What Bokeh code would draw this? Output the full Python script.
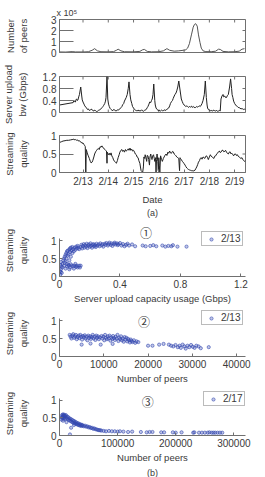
from bokeh.plotting import figure
from bokeh.layouts import column
from bokeh.models import FixedTicker, NumeralTickFormatter, Label, Range1d, Title
from bokeh.embed import file_html
from bokeh.resources import INLINE
import math

# ---------------- data ----------------
# (a) one week of measurements, time in days of February
date_ticks = [13, 14, 15, 16, 17, 18, 19]
date_labels = ["2/13", "2/14", "2/15", "2/16", "2/17", "2/18", "2/19"]

t_peers = [12.07, 12.32, 12.57, 12.71, 13.04, 13.21, 13.36, 13.46, 13.57, 13.71,
           14.0, 14.21, 14.32, 14.39, 14.5, 14.64, 15.0, 15.25, 15.36, 15.43,
           15.54, 15.71, 16.0, 16.18, 16.32, 16.43, 16.61, 16.79, 16.96, 17.07,
           17.14, 17.21, 17.29, 17.36, 17.41, 17.46, 17.52, 17.57, 17.63, 17.68,
           17.75, 17.86, 18.07, 18.25, 18.36, 18.43, 18.54, 18.75, 19.0, 19.18,
           19.29, 19.39]
peers_e5 = [0.05, 0.04, 0.08, 0.05, 0.05, 0.07, 0.2, 0.35, 0.15, 0.07,
            0.06, 0.08, 0.2, 0.3, 0.15, 0.07, 0.06, 0.1, 0.25, 0.28,
            0.1, 0.06, 0.07, 0.15, 0.35, 0.2, 0.12, 0.15, 0.2, 0.25,
            0.4, 0.8, 1.6, 2.3, 2.55, 2.62, 2.4, 1.6, 0.9, 0.4,
            0.15, 0.08, 0.07, 0.12, 0.3, 0.28, 0.1, 0.06, 0.07, 0.12,
            0.3, 0.35]

# server upload bandwidth (Gbps) as (day, value)
bw_points = [
    (12.07, 0.25), (12.61, 0.33), (12.64, 0.4), (12.67, 0.36), (12.70, 0.35), (12.73, 0.44),
    (12.75, 0.45), (12.78, 0.4), (12.80, 0.42), (12.83, 0.52), (12.86, 0.6), (12.91, 0.85),
    (12.95, 0.55), (12.97, 0.42), (13.0, 0.35), (13.04, 0.28), (13.07, 0.22), (13.11, 0.18),
    (13.14, 0.15), (13.18, 0.1), (13.21, 0.12), (13.25, 0.07), (13.29, 0.08), (13.32, 0.11),
    (13.36, 0.1), (13.39, 0.06), (13.43, 0.05), (13.46, 0.08), (13.5, 0.06), (13.54, 0.03),
    (13.57, 0.04), (13.61, 0.07), (13.64, 0.08), (13.68, 0.1), (13.71, 0.12), (13.75, 0.16),
    (13.79, 0.2), (13.82, 0.24), (13.86, 0.3), (13.89, 0.38), (13.91, 0.5), (13.95, 1.2),
    (13.98, 0.45), (14.01, 0.28), (14.04, 0.2), (14.07, 0.14), (14.11, 0.1), (14.14, 0.08),
    (14.18, 0.06), (14.21, 0.1), (14.25, 0.09), (14.29, 0.05), (14.32, 0.05), (14.36, 0.09),
    (14.39, 0.08), (14.43, 0.1), (14.46, 0.12), (14.5, 0.16), (14.54, 0.2), (14.57, 0.26),
    (14.61, 0.3), (14.64, 0.38), (14.68, 0.45), (14.71, 0.5), (14.75, 0.6), (14.79, 0.8),
    (14.82, 1.02), (14.86, 0.6), (14.89, 0.42), (14.93, 0.3), (14.96, 0.2), (15.0, 0.15),
    (15.04, 0.1), (15.07, 0.08), (15.11, 0.06), (15.14, 0.07), (15.18, 0.05), (15.21, 0.08),
    (15.25, 0.05), (15.29, 0.06), (15.32, 0.09), (15.36, 0.05), (15.39, 0.04), (15.43, 0.07),
    (15.46, 0.08), (15.5, 0.1), (15.54, 0.16), (15.57, 0.2), (15.61, 0.28), (15.64, 0.35),
    (15.68, 0.33), (15.71, 0.4), (15.74, 0.45), (15.77, 0.6), (15.80, 0.95), (15.84, 0.4),
    (15.86, 0.25), (15.89, 0.15), (15.93, 0.1), (15.96, 0.08), (16.0, 0.06), (16.04, 0.07),
    (16.07, 0.05), (16.11, 0.08), (16.14, 0.06), (16.18, 0.06), (16.21, 0.09), (16.25, 0.07),
    (16.29, 0.08), (16.32, 0.11), (16.36, 0.13), (16.39, 0.15), (16.43, 0.22), (16.46, 0.3),
    (16.5, 0.36), (16.54, 0.4), (16.57, 0.47), (16.61, 0.55), (16.64, 0.6), (16.68, 0.65),
    (16.71, 0.72), (16.75, 0.85), (16.79, 1.05), (16.84, 0.75), (16.89, 0.45), (16.93, 0.36),
    (16.96, 0.3), (17.0, 0.25), (17.04, 0.22), (17.07, 0.2), (17.11, 0.22), (17.14, 0.2),
    (17.18, 0.17), (17.21, 0.2), (17.25, 0.18), (17.29, 0.21), (17.32, 0.17), (17.36, 0.2),
    (17.39, 0.18), (17.43, 0.16), (17.46, 0.17), (17.5, 0.2), (17.54, 0.18), (17.57, 0.2),
    (17.61, 0.22), (17.64, 0.2), (17.68, 0.25), (17.71, 0.3), (17.75, 0.4), (17.80, 0.6),
    (17.84, 1.05), (17.88, 0.5), (17.91, 0.25), (17.93, 0.15), (17.96, 0.1), (18.0, 0.08),
    (18.04, 0.06), (18.07, 0.07), (18.11, 0.05), (18.14, 0.06), (18.18, 0.08), (18.21, 0.06),
    (18.25, 0.05), (18.29, 0.07), (18.32, 0.04), (18.36, 0.05), (18.39, 0.07), (18.43, 0.05),
    (18.46, 0.45), (18.5, 0.55), (18.54, 0.6), (18.57, 0.52), (18.61, 0.55), (18.64, 0.5),
    (18.68, 0.5), (18.71, 0.56), (18.75, 0.6), (18.80, 0.85), (18.84, 1.12), (18.88, 0.8),
    (18.9, 0.6), (18.93, 0.5), (18.96, 0.38), (19.0, 0.3), (19.04, 0.25), (19.07, 0.22),
    (19.11, 0.2), (19.14, 0.17), (19.18, 0.16), (19.21, 0.15), (19.25, 0.12), (19.29, 0.13),
    (19.32, 0.12), (19.36, 0.1), (19.39, 0.11), (19.43, 0.1)]

# streaming quality as (day, value)
quality_points = [
    (12.07, 0.81), (12.14, 0.83), (12.21, 0.85), (12.29, 0.86), (12.36, 0.87), (12.43, 0.87),
    (12.5, 0.88), (12.57, 0.89), (12.64, 0.9), (12.68, 0.88), (12.71, 0.89), (12.75, 0.87),
    (12.79, 0.88), (12.82, 0.85), (12.86, 0.86), (12.89, 0.83), (12.93, 0.82), (12.96, 0.79),
    (13.0, 0.8), (13.04, 0.75), (13.07, 0.73), (13.09, 0.7), (13.11, 0.0), (13.13, 0.62),
    (13.16, 0.55), (13.18, 0.5), (13.21, 0.45), (13.25, 0.38), (13.29, 0.3), (13.32, 0.26),
    (13.36, 0.28), (13.39, 0.33), (13.43, 0.42), (13.46, 0.5), (13.5, 0.56), (13.54, 0.6),
    (13.57, 0.63), (13.61, 0.65), (13.64, 0.62), (13.68, 0.7), (13.71, 0.68), (13.75, 0.72),
    (13.79, 0.67), (13.82, 0.66), (13.86, 0.62), (13.89, 0.6), (13.93, 0.58), (13.95, 0.25),
    (13.96, 0.55), (14.0, 0.48), (14.04, 0.52), (14.07, 0.47), (14.11, 0.53), (14.14, 0.45),
    (14.18, 0.4), (14.21, 0.34), (14.25, 0.3), (14.29, 0.27), (14.32, 0.25), (14.36, 0.32),
    (14.39, 0.4), (14.43, 0.48), (14.46, 0.55), (14.5, 0.6), (14.54, 0.62), (14.57, 0.57),
    (14.61, 0.6), (14.64, 0.55), (14.68, 0.62), (14.71, 0.58), (14.75, 0.6), (14.79, 0.64),
    (14.82, 0.6), (14.86, 0.66), (14.89, 0.6), (14.93, 0.63), (14.96, 0.58), (15.0, 0.6),
    (15.04, 0.55), (15.07, 0.5), (15.11, 0.48), (15.14, 0.42), (15.18, 0.4), (15.21, 0.32),
    (15.25, 0.25), (15.28, 0.12), (15.30, 0.05), (15.34, 0.02), (15.36, 0.0), (15.39, 0.15),
    (15.41, 0.42), (15.44, 0.38), (15.46, 0.48), (15.49, 0.4), (15.52, 0.3), (15.54, 0.46),
    (15.57, 0.45), (15.6, 0.35), (15.63, 0.2), (15.65, 0.42), (15.68, 0.5), (15.71, 0.38),
    (15.73, 0.35), (15.76, 0.45), (15.79, 0.48), (15.82, 0.38), (15.84, 0.3), (15.87, 0.4),
    (15.89, 0.0), (15.91, 0.35), (15.93, 0.5), (15.96, 0.3), (15.98, 0.05), (16.0, 0.4),
    (16.02, 0.2), (16.04, 0.0), (16.07, 0.45), (16.11, 0.35), (16.14, 0.3), (16.18, 0.38),
    (16.21, 0.42), (16.25, 0.47), (16.29, 0.5), (16.32, 0.46), (16.36, 0.55), (16.39, 0.52),
    (16.43, 0.58), (16.46, 0.53), (16.5, 0.52), (16.54, 0.57), (16.57, 0.56), (16.61, 0.5),
    (16.64, 0.48), (16.68, 0.45), (16.71, 0.42), (16.75, 0.4), (16.79, 0.38), (16.82, 0.05),
    (16.84, 0.4), (16.86, 0.37), (16.89, 0.35), (16.93, 0.3), (16.96, 0.28), (17.0, 0.24),
    (17.04, 0.2), (17.07, 0.16), (17.11, 0.12), (17.14, 0.1), (17.18, 0.08), (17.21, 0.07),
    (17.25, 0.06), (17.29, 0.05), (17.32, 0.05), (17.36, 0.04), (17.39, 0.05), (17.43, 0.06),
    (17.46, 0.1), (17.5, 0.15), (17.54, 0.22), (17.57, 0.28), (17.61, 0.32), (17.64, 0.38),
    (17.68, 0.4), (17.71, 0.36), (17.75, 0.42), (17.79, 0.4), (17.82, 0.38), (17.86, 0.44),
    (17.89, 0.45), (17.93, 0.4), (17.96, 0.35), (18.0, 0.42), (18.04, 0.48), (18.07, 0.44),
    (18.11, 0.42), (18.14, 0.4), (18.18, 0.38), (18.21, 0.44), (18.25, 0.45), (18.29, 0.5),
    (18.32, 0.52), (18.36, 0.56), (18.39, 0.58), (18.43, 0.54), (18.46, 0.55), (18.5, 0.6),
    (18.54, 0.6), (18.57, 0.56), (18.61, 0.57), (18.64, 0.6), (18.68, 0.55), (18.71, 0.52),
    (18.75, 0.5), (18.79, 0.55), (18.82, 0.56), (18.86, 0.5), (18.89, 0.52), (18.93, 0.48),
    (18.96, 0.45), (19.0, 0.5), (19.04, 0.5), (19.07, 0.46), (19.11, 0.48), (19.14, 0.44),
    (19.18, 0.42), (19.21, 0.4), (19.25, 0.38), (19.29, 0.4), (19.32, 0.35), (19.36, 0.33),
    (19.39, 0.3), (19.43, 0.32)]

# (b)-1  2/13: server upload usage (Gbps) vs streaming quality
usage_0213 = [0.005, 0.008, 0.01, 0.012, 0.006, 0.015, 0.018, 0.02, 0.01, 0.003,
              0.025, 0.03, 0.03, 0.035, 0.035, 0.04, 0.04, 0.045, 0.045, 0.05,
              0.05, 0.05, 0.055, 0.055, 0.06, 0.06, 0.065, 0.065, 0.07, 0.07,
              0.07, 0.075, 0.075, 0.08, 0.08, 0.085, 0.085, 0.09, 0.09, 0.095,
              0.1, 0.1, 0.105, 0.11, 0.11, 0.115, 0.12, 0.12, 0.125, 0.13,
              0.13, 0.04, 0.06, 0.065, 0.075, 0.095, 0.105, 0.115, 0.135, 0.14,
              0.14, 0.145, 0.15, 0.155, 0.16, 0.165, 0.17, 0.175, 0.18, 0.185,
              0.19, 0.195, 0.2, 0.205, 0.21, 0.215, 0.22, 0.225, 0.23, 0.235,
              0.24, 0.245, 0.25, 0.26, 0.265, 0.27, 0.28, 0.285, 0.29, 0.3,
              0.305, 0.31, 0.32, 0.325, 0.33, 0.34, 0.345, 0.35, 0.36, 0.365,
              0.37, 0.38, 0.385, 0.39, 0.4, 0.41, 0.42, 0.43, 0.44, 0.45,
              0.46, 0.48, 0.5, 0.55, 0.57, 0.6, 0.62, 0.64, 0.68, 0.7,
              0.72, 0.74, 0.75, 0.78, 0.84]
quality_u0213 = [0.05, 0.12, 0.2, 0.28, 0.32, 0.1, 0.25, 0.35, 0.4, 0.15,
                 0.45, 0.5, 0.3, 0.55, 0.38, 0.6, 0.42, 0.5, 0.65, 0.7,
                 0.35, 0.28, 0.58, 0.72, 0.62, 0.3, 0.75, 0.45, 0.68, 0.78,
                 0.25, 0.55, 0.8, 0.3, 0.72, 0.65, 0.82, 0.28, 0.76, 0.7,
                 0.3, 0.8, 0.74, 0.27, 0.83, 0.78, 0.25, 0.85, 0.8, 0.3,
                 0.76, 0.22, 0.33, 0.2, 0.34, 0.22, 0.35, 0.3, 0.25, 0.3,
                 0.82, 0.88, 0.78, 0.85, 0.9, 0.8, 0.87, 0.83, 0.91, 0.79,
                 0.86, 0.89, 0.83, 0.92, 0.85, 0.8, 0.88, 0.9, 0.84, 0.87,
                 0.82, 0.91, 0.86, 0.89, 0.84, 0.92, 0.87, 0.9, 0.83, 0.91,
                 0.88, 0.93, 0.86, 0.9, 0.94, 0.88, 0.92, 0.85, 0.91, 0.94,
                 0.89, 0.92, 0.87, 0.9, 0.93, 0.86, 0.9, 0.84, 0.88, 0.91,
                 0.86, 0.89, 0.84, 0.86, 0.84, 0.85, 0.87, 0.84, 0.86, 0.83,
                 0.85, 0.84, 0.87, 0.83, 0.83]

# (b)-2  2/13: number of peers vs streaming quality
peers_0213 = [2300, 2500, 2700, 2900, 3100, 3300, 3500, 3700, 3900, 4100,
              4300, 4500, 4700, 4900, 5100, 5300, 5500, 5700, 5900, 6100,
              6300, 6500, 6700, 6900, 7100, 7300, 7500, 7700, 7900, 8100,
              8300, 8500, 8700, 8900, 9100, 9300, 9500, 9700, 9900, 10100,
              10300, 10500, 10700, 10900, 11100, 11300, 11500, 11700, 11900, 12100,
              12300, 12500, 12700, 12900, 13100, 13300, 13500, 13700, 13900, 14100,
              14300, 14500, 14700, 14900, 15100, 15300, 15500, 15700, 15900, 16100,
              16300, 16500, 16800, 17100, 17400, 17800, 5000, 7000, 12000, 20000,
              21000, 22500, 23500, 24700, 25200, 25700, 26200, 26700, 27100, 27400,
              27800, 28200, 28500, 28900, 29300, 29700, 30100, 30500, 30900, 31400,
              31900, 33700]
quality_p0213 = [0.6, 0.55, 0.5, 0.58, 0.62, 0.52, 0.56, 0.6, 0.48, 0.54,
                 0.58, 0.51, 0.6, 0.55, 0.47, 0.57, 0.53, 0.59, 0.5, 0.55,
                 0.45, 0.58, 0.52, 0.56, 0.49, 0.54, 0.6, 0.5, 0.55, 0.46,
                 0.58, 0.52, 0.56, 0.48, 0.53, 0.33, 0.57, 0.5, 0.55, 0.45,
                 0.6, 0.52, 0.48, 0.56, 0.5, 0.58, 0.44, 0.53, 0.49, 0.57,
                 0.51, 0.46, 0.55, 0.5, 0.6, 0.43, 0.52, 0.48, 0.56, 0.45,
                 0.5, 0.41, 0.54, 0.47, 0.52, 0.42, 0.49, 0.45, 0.39, 0.47,
                 0.43, 0.4, 0.45, 0.38, 0.42, 0.4, 0.33, 0.36, 0.35, 0.3,
                 0.3, 0.33, 0.35, 0.33, 0.3, 0.28, 0.32, 0.26, 0.3, 0.24,
                 0.33, 0.28, 0.22, 0.3, 0.26, 0.32, 0.27, 0.24, 0.3, 0.28,
                 0.23, 0.26]

# (b)-3  2/17: number of peers vs streaming quality
peers_0217 = [3500, 4000, 4500, 5000, 5500, 6000, 6500, 7000, 7500, 8000,
              8500, 9000, 9500, 10000, 11000, 12000, 13000, 14000, 15000, 16000,
              17000, 18000, 19000, 20000, 21000, 22000, 23000, 24000, 25000, 26000,
              27000, 28000, 29000, 30000, 31000, 32000, 33000, 34000, 35000, 36000,
              37000, 38000, 39000, 40000, 42000, 44000, 46000, 48000, 50000, 52000,
              54000, 56000, 58000, 60000, 62000, 64000, 66000, 68000, 70000, 72000,
              20000, 18000, 12000, 6000, 25000,
              76000, 80000, 85000, 90000, 95000, 100000, 104000, 110000, 118000, 125000,
              140000, 150000, 155000, 160000, 175000, 180000, 195000, 200000, 210000, 230000,
              232000, 240000, 245000, 250000, 255000, 258000, 262000, 265000, 268000, 272000,
              276000, 280000]
quality_p0217 = [0.45, 0.52, 0.58, 0.5, 0.55, 0.6, 0.48, 0.57, 0.53, 0.59,
                 0.5, 0.56, 0.46, 0.55, 0.58, 0.5, 0.54, 0.47, 0.52, 0.44,
                 0.49, 0.42, 0.47, 0.4, 0.45, 0.38, 0.43, 0.36, 0.41, 0.35,
                 0.39, 0.33, 0.37, 0.32, 0.35, 0.3, 0.34, 0.29, 0.32, 0.28,
                 0.31, 0.27, 0.3, 0.28, 0.26, 0.28, 0.25, 0.26, 0.23, 0.24,
                 0.21, 0.22, 0.19, 0.2, 0.18, 0.17, 0.16, 0.15, 0.15, 0.14,
                 0.22, 0.03, 0.38, 0.42, 0.3,
                 0.13, 0.12, 0.13, 0.12, 0.12, 0.11, 0.12, 0.11, 0.1, 0.11,
                 0.1, 0.09, 0.1, 0.1, 0.09, 0.09, 0.09, 0.08, 0.09, 0.08,
                 0.09, 0.08, 0.08, 0.08, 0.08, 0.09, 0.08, 0.08, 0.08, 0.08,
                 0.08, 0.08]

# ---------------- styling ----------------
FONT = "Liberation Sans"
CIRCLED_FONT = "Noto Sans CJK JP"
TEXT = "#3a3a3a"
AXIS = "#707070"
BLUE = "#3448b0"
W = 265
X0, X1 = 12.07, 19.43
PX_PER_UNIT_Q = 36  # vertical pixels per unit of streaming quality in (b)


def style_axis(ax, tick_in):
    ax.axis_line_color = AXIS
    ax.major_tick_line_color = AXIS
    ax.minor_tick_line_color = None
    ax.major_tick_in = tick_in
    ax.major_tick_out = 0
    ax.major_label_standoff = 3
    ax.major_label_text_font = FONT
    ax.major_label_text_font_size = "10px"
    ax.major_label_text_color = TEXT
    ax.axis_label_text_font = FONT
    ax.axis_label_text_font_size = "9.5px"
    ax.axis_label_text_font_style = "normal"
    ax.axis_label_text_color = TEXT


def small_title(text, align, size="9px", font=FONT, offset=0, standoff=0):
    return Title(text=text, align=align, offset=offset, standoff=standoff,
                 text_font=font, text_font_size=size, text_font_style="normal",
                 text_color=TEXT)


def time_panel(height, top, bottom, y_end, y_ticks, ylabel, standoff, show_dates):
    p = figure(width=W, height=height, x_range=Range1d(X0, X1), y_range=Range1d(0, y_end),
               output_backend="svg", toolbar_location=None,
               min_border_left=58, min_border_right=1,
               min_border_top=top, min_border_bottom=bottom)
    p.grid.visible = False
    p.outline_line_color = AXIS
    yax = p.yaxis[0]
    yax.ticker = FixedTicker(ticks=y_ticks)
    yax.formatter = NumeralTickFormatter(format="0.[0]")
    style_axis(yax, 14)
    yax.axis_label = ylabel
    yax.axis_label_standoff = standoff
    xax = p.xaxis[0]
    if show_dates:
        xax.ticker = FixedTicker(ticks=date_ticks)
        style_axis(xax, 3)
        xax.major_label_overrides = {float(t): s for t, s in zip(date_ticks, date_labels)}
        xax.axis_label = "Date"
        xax.axis_label_standoff = 4
    else:
        xax.visible = False
        p.scatter(date_ticks, [0] * len(date_ticks), marker="dash", angle=math.pi / 2,
                  size=6, line_color=AXIS, line_width=1)
    # short inward ticks on the top and right edges of the box
    p.scatter(date_ticks, [y_end] * len(date_ticks), marker="dash", angle=math.pi / 2,
              size=6, line_color=AXIS, line_width=1)
    p.scatter([X1] * len(y_ticks), y_ticks, marker="dash", size=6, line_color=AXIS, line_width=1)
    return p


def scatter_panel(height, top, bottom, x_end, x_ticks, fmt, xlabel, xs, ys, day, legend_xy,
                  mark, mark_x, mark_dy):
    frame_h = height - top - bottom
    p = figure(width=W, height=height, x_range=Range1d(0, x_end),
               y_range=Range1d(0, frame_h / PX_PER_UNIT_Q),
               output_backend="svg", toolbar_location=None,
               min_border_left=58, min_border_right=20,
               min_border_top=top, min_border_bottom=bottom)
    p.grid.visible = False
    p.outline_line_color = None
    yax = p.yaxis[0]
    yax.ticker = FixedTicker(ticks=[0, 0.5, 1])
    yax.formatter = NumeralTickFormatter(format="0.[0]")
    yax.bounds = (0, 1.05)
    style_axis(yax, 3)
    yax.axis_label = "Streaming\nquality"
    yax.axis_label_standoff = 11
    xax = p.xaxis[0]
    xax.ticker = FixedTicker(ticks=x_ticks)
    xax.formatter = NumeralTickFormatter(format=fmt)
    style_axis(xax, 3)
    xax.axis_label = xlabel
    xax.axis_label_standoff = 2
    p.scatter(xs, ys, marker="circle", size=3.2, line_color=BLUE, line_width=0.6,
              fill_color=BLUE, fill_alpha=0.3, legend_label=day)
    lg = p.legend[0]
    lg.location = legend_xy
    lg.padding = 1
    lg.margin = 0
    lg.spacing = 0
    lg.glyph_width = 16
    lg.glyph_height = 8
    lg.label_height = 8
    lg.label_standoff = 2
    lg.label_text_font = FONT
    lg.label_text_font_size = "10px"
    lg.label_text_color = TEXT
    lg.border_line_color = "#777777"
    lg.border_line_width = 1
    lg.background_fill_alpha = 1
    p.add_layout(Label(x=mark_x, y=1.05, y_offset=mark_dy, text=mark, text_align="center",
                       text_baseline="middle", text_font=CIRCLED_FONT, text_font_size="12px",
                       text_color=TEXT))
    return p


# ---- (a) time series ----
pa1 = time_panel(58, 19, 6, 3, [0, 1, 2, 3], "Number\nof peers", 19, False)
pa1.line(t_peers, peers_e5, line_color="#555555", line_width=1)
pa1.add_layout(small_title("x 10\u2075", "left", offset=-3, standoff=4), "above")

pa2 = time_panel(70, 18, 16, 1.2, [0, 0.4, 0.8, 1.2], "Server upload\nbw (Gbps)", 12, False)
pa2.line([t for t, _ in bw_points], [v for _, v in bw_points], line_color="#222222", line_width=1)

pa3 = time_panel(94, 7, 50, 1, [0, 0.5, 1], "Streaming\nquality", 11, True)
pa3.line([t for t, _ in quality_points], [v for _, v in quality_points],
         line_color="#222222", line_width=1)
pa3.add_layout(small_title("(a)", "center", standoff=-3), "below")

# ---- (b) scatter plots ----
pb1 = scatter_panel(86, 2, 32, 1.23, [0, 0.4, 0.8, 1.2], "0.[0]",
                    "Server upload capacity usage (Gbps)", usage_0213, quality_u0213,
                    "2/13", (142, 30), "\u2460", 0.572, 6)
pb2 = scatter_panel(81, 2, 33, 42000, [0, 10000, 20000, 30000, 40000], "0",
                    "Number of peers", peers_0213, quality_p0213,
                    "2/13", (142, 31), "\u2461", 19100, -3)
pb3 = scatter_panel(88, 2, 41, 320000, [0, 100000, 200000, 300000], "0",
                    "Number of peers", peers_0217, quality_p0217,
                    "2/17", (144, 29), "\u2462", 152000, -3)
pb3.add_layout(small_title("(b)", "center"), "below")

layout = column(pa1, pa2, pa3, pb1, pb2, pb3, spacing=0)
open("out.html", "w").write(file_html(layout, INLINE))
